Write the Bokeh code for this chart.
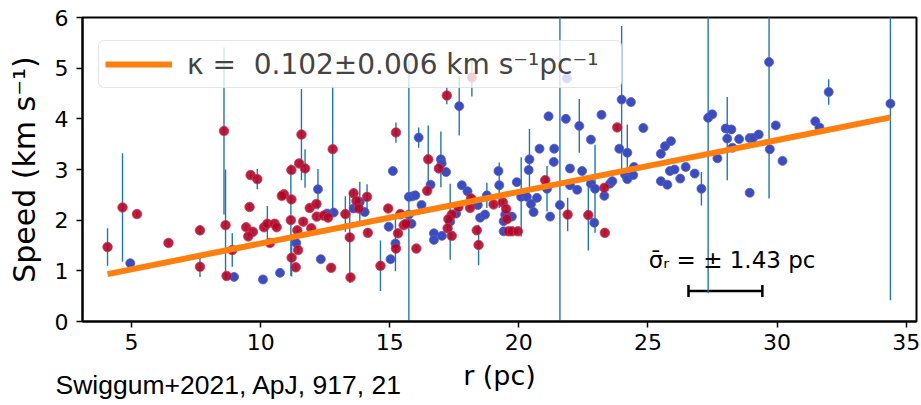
from bokeh.plotting import figure
from bokeh.models import ColumnDataSource, FixedTicker, Label, Whisker, TeeHead, Legend, Title
from bokeh.embed import file_html
from bokeh.resources import INLINE

# ---------------- data ----------------
red_r = [4.07, 4.65, 5.21, 6.43, 7.65, 7.65, 8.58, 8.64, 8.68, 8.90, 9.61, 9.87, 9.57, 9.44, 9.70, 9.52,
         10.13, 10.26, 10.54, 10.62, 10.36, 10.90, 10.82, 11.19, 11.17, 11.58, 11.49, 11.72, 11.19, 11.65,
         11.42, 11.45, 11.20, 11.36, 11.90, 12.16, 12.17, 11.96, 12.79, 12.44, 12.61, 12.73, 13.28, 13.45,
         13.48, 13.60, 13.71, 13.80, 14.12, 14.15, 14.64, 14.94, 15.24, 15.24, 15.41, 15.32, 15.54, 15.63,
         16.03, 16.49, 16.45, 16.90, 17.21, 18.18, 18.15, 18.11, 17.66, 17.40, 17.27, 17.24, 17.40, 18.44,
         18.37, 19.02, 19.38, 19.51, 19.54, 19.60, 19.73, 19.96, 21.02, 21.89, 22.69, 23.31, 23.33, 23.81]
red_v = [1.47, 2.25, 2.12, 1.55, 1.80, 1.08, 3.76, 1.90, 0.90, 1.41, 2.89, 2.81, 2.26, 1.86, 1.77, 1.68,
         1.86, 1.93, 1.93, 1.86, 1.55, 2.51, 2.48, 2.99, 2.00, 3.69, 3.12, 3.02, 2.41, 1.97,
         1.80, 1.41, 1.26, 1.07, 2.24, 2.32, 2.07, 1.84, 3.40, 2.09, 2.05, 1.06, 2.12, 1.66,
         0.87, 2.53, 2.38, 2.23, 2.46, 1.75, 1.10, 2.23, 1.44, 3.73, 2.12, 1.74, 1.90, 1.93,
         1.44, 3.20, 2.58, 3.02, 4.46, 4.82, 2.43, 2.24, 2.26, 2.11, 2.02, 1.84, 1.69, 1.51,
         1.80, 2.31, 2.35, 2.22, 2.02, 1.78, 1.78, 1.78, 2.79, 2.11, 2.10, 2.64, 1.75, 3.83]
red_err = [0.37, 1.07, 0.05, 0.05, 0.10, 0.20, 1.65, 1.10, 0.05, 0.33, 0.05, 0.20, 0.05, 0.05, 0.05, 0.05,
           0.05, 0.35, 0.05, 0.05, 0.05, 0.05, 0.05, 0.05, 1.10, 0.90, 0.05, 0.38, 0.05, 0.05,
           0.05, 0.05, 0.37, 0.05, 0.05, 0.05, 0.05, 0.05, 1.25, 0.05, 0.05, 0.05, 0.35, 0.90,
           0.05, 0.10, 0.05, 0.05, 0.25, 0.05, 0.50, 0.05, 0.05, 0.20, 0.05, 0.05, 0.05, 0.05,
           0.05, 0.67, 0.05, 0.05, 0.17, 0.38, 0.05, 0.05, 0.05, 0.05, 0.05, 0.05, 0.05, 0.40,
           0.05, 0.05, 0.05, 0.05, 0.05, 0.05, 0.05, 0.05, 0.05, 0.33, 0.70, 0.05, 0.05, 0.05]

blue_r = [4.95, 8.97, 10.09, 10.75, 11.38, 12.22, 12.33, 12.83, 12.57, 13.60, 13.84, 14.03, 14.96, 15.22,
          15.03, 15.12, 15.74, 15.87, 15.99, 15.74, 15.84, 16.12, 16.58, 16.23, 16.71, 16.71, 17.69, 16.98,
          17.01, 17.18, 17.79, 18.01, 17.34, 17.57, 17.02, 18.50, 18.69, 18.41, 18.76, 19.21, 19.24, 19.47,
          19.41, 19.73, 19.41, 19.92, 20.09, 20.31, 20.38, 20.41, 20.47, 20.57, 20.70, 20.80, 21.09, 21.21,
          21.15, 21.37, 21.35, 21.59, 21.82, 21.86, 22.34, 21.98, 21.98, 22.26, 22.45, 22.79, 22.79, 22.95,
          22.92, 23.20, 23.31, 23.53, 23.62, 23.89, 23.98, 24.34, 24.20, 24.11, 24.20, 24.43, 24.46, 24.82,
          25.50, 25.66, 25.89, 25.50, 25.75, 25.85, 26.03, 26.25, 26.46, 26.81, 27.07, 27.33, 27.49, 27.69,
          28.01, 28.23, 28.07, 28.53, 28.27, 28.94, 28.94, 29.07, 29.29, 29.69, 29.72, 29.95, 30.21, 31.48,
          31.64, 32.00, 34.39]
blue_v = [1.15, 0.88, 0.83, 0.96, 1.55, 2.61, 1.23, 2.15, 2.13, 2.23, 2.36, 2.16, 1.87, 1.54,
          1.23, 2.97, 2.46, 2.47, 2.49, 2.11, 1.93, 3.63, 2.70, 2.30, 1.74, 1.61, 4.25, 3.20,
          3.12, 2.95, 2.69, 2.57, 1.97, 2.13, 1.69, 2.05, 2.11, 2.30, 2.49, 2.97, 2.69, 2.11,
          1.98, 2.07, 1.78, 2.75, 2.46, 2.46, 2.99, 3.20, 2.32, 2.16, 2.44, 3.41, 2.62, 2.07,
          4.05, 3.41, 3.15, 2.30, 4.00, 4.80, 3.86, 3.02, 2.69, 2.60, 2.97, 3.59, 2.72, 2.62,
          1.95, 4.08, 2.48, 2.72, 2.77, 3.41, 4.38, 4.33, 3.33, 2.90, 2.81, 2.89, 3.05, 3.82,
          3.31, 3.46, 3.56, 2.77, 2.70, 2.97, 3.00, 2.82, 3.05, 2.92, 2.62, 4.02, 4.09, 3.22,
          3.81, 3.79, 3.61, 3.60, 3.43, 2.54, 3.62, 3.62, 3.69, 5.12, 3.40, 3.87, 3.17, 3.95,
          3.83, 4.53, 4.30]
blue_err = [0.0, 0.0, 0.0, 0.0, 0.0, 0.40, 0.0, 0.0, 0.0, 0.0, 0.40, 0.0, 0.0, 0.55,
            0.0, 0.0, 2.70, 0.0, 0.0, 0.0, 0.0, 0.20, 0.0, 0.0, 0.0, 0.0, 0.58, 0.55,
            0.0, 0.0, 0.0, 0.0, 0.75, 0.0, 0.0, 0.0, 0.0, 0.0, 0.25, 0.0, 0.45, 0.0,
            0.0, 0.0, 0.0, 0.0, 0.78, 0.0, 0.0, 0.60, 0.0, 0.0, 0.0, 0.0, 0.45, 0.0,
            0.0, 0.0, 0.0, 4.00, 0.0, 0.0, 0.53, 0.0, 0.0, 0.0, 0.0, 0.0, 0.0, 0.87,
            0.0, 0.0, 0.0, 0.0, 0.0, 0.0, 1.45, 0.0, 0.56, 0.0, 0.0, 0.0, 0.0, 0.0,
            0.0, 0.0, 0.0, 0.0, 0.0, 0.0, 0.0, 0.0, 0.0, 0.0, 0.33, 3.46, 0.0, 0.0,
            0.0, 0.0, 0.82, 0.0, 0.0, 0.0, 0.0, 0.0, 0.0, 2.69, 0.0, 0.0, 0.0, 0.0,
            0.0, 0.25, 3.88]

fit_slope = 0.102
fit_intercept = 0.52
legend_text = "κ =  0.102±0.006 km s⁻¹pc⁻¹"

sigma_center = 28.0
sigma_level = 0.6
sigma_r = 1.43
sigma_text = "σ̄ᵣ =  ± 1.43 pc"

x_ticks = [5, 10, 15, 20, 25, 30, 35]
y_ticks = [0, 1, 2, 3, 4, 5, 6]
x_label = "r (pc)"
y_label = "Speed (km s⁻¹)"
citation = "Swiggum+2021, ApJ, 917, 21"

# ---------------- figure ----------------
p = figure(frame_width=834, frame_height=304, x_range=(3.1, 35.4), y_range=(0, 6),
           output_backend="svg", toolbar_location=None,
           min_border_left=82, min_border_right=5, min_border_top=17, min_border_bottom=84)
p.xgrid.visible = False
p.ygrid.visible = False
p.outline_line_color = "black"
p.outline_line_width = 2
p.background_fill_color = "white"
p.border_fill_color = "white"

for ax, ticks in ((p.xaxis[0], x_ticks), (p.yaxis[0], y_ticks)):
    ax.ticker = FixedTicker(ticks=ticks)
    ax.minor_tick_line_color = None
    ax.major_tick_in = 0
    ax.major_tick_out = 6
    ax.major_tick_line_width = 1.5
    ax.axis_line_width = 2
    ax.major_label_text_font = "DejaVu Sans"
    ax.major_label_text_font_size = "22px"
    ax.major_label_text_color = "black"
    ax.axis_label_text_font = "DejaVu Sans"
    ax.axis_label_text_font_style = "normal"
    ax.axis_label_text_color = "black"
p.xaxis.axis_label = x_label
p.yaxis.axis_label = y_label
p.xaxis.axis_label_text_font_size = "27px"
p.yaxis.axis_label_text_font_size = "30px"
p.xaxis.major_label_standoff = 6
p.yaxis.major_label_standoff = 8
p.xaxis.axis_label_standoff = 7
p.yaxis.axis_label_standoff = 10

# error bars
all_r = red_r + blue_r
all_v = red_v + blue_v
all_e = red_err + blue_err
err_src = ColumnDataSource(dict(
    x=[r for r, e in zip(all_r, all_e) if e > 0],
    lo=[v - e for v, e in zip(all_v, all_e) if e > 0],
    hi=[v + e for v, e in zip(all_v, all_e) if e > 0],
))
p.segment(x0="x", y0="lo", x1="x", y1="hi", source=err_src, line_color="#1f77b4", line_width=1.4)

# points
p.scatter(blue_r, blue_v, size=9, fill_color="#3b4cc0", line_color="#5060cc", line_width=0.8)
p.scatter(red_r, red_v, size=9.5, fill_color="#b40426", fill_alpha=0.9,
          line_color="#c83a58", line_alpha=0.8, line_width=1)

# fit line
fx = [min(all_r), max(all_r)]
fy = [fit_intercept + fit_slope * x for x in fx]
fit = p.line(fx, fy, line_color="#ff7f0e", line_width=6)

legend = Legend(items=[(legend_text, [fit])], location=(16, 233),
                label_text_font="DejaVu Sans", label_text_font_size="28px",
                glyph_width=67, glyph_height=34, label_standoff=15, padding=6,
                label_width=428, label_height=34, spacing=0,
                border_line_color="#cccccc", border_line_width=1.5,
                background_fill_color="white", background_fill_alpha=0.8, margin=0)
try:
    legend.border_radius = 6
except Exception:
    pass
p.add_layout(legend, "center")

# sigma_r indicator
sig_src = ColumnDataSource(dict(base=[sigma_level], lower=[sigma_center - sigma_r], upper=[sigma_center + sigma_r]))
p.add_layout(Whisker(source=sig_src, base="base", lower="lower", upper="upper", dimension="width",
                     line_color="black", line_width=2.5,
                     lower_head=TeeHead(size=12, line_color="black", line_width=2.5),
                     upper_head=TeeHead(size=12, line_color="black", line_width=2.5)))
p.add_layout(Label(x=sigma_center + 0.4, y=sigma_level + 0.36, text=sigma_text, text_align="center",
                   text_baseline="bottom", text_font="DejaVu Sans", text_font_size="23px",
                   text_color="black"))

# citation: a title under the x axis, pulled up to the axis-label row
cit = Title(text=citation, align="left", offset=-27, vertical_align="top",
            text_font="Liberation Sans", text_font_size="26.5px", text_font_style="normal",
            text_color="black")
try:
    cit.standoff = -48
except Exception:
    pass
p.add_layout(cit, "below")

open("out.html", "w").write(file_html(p, INLINE))
